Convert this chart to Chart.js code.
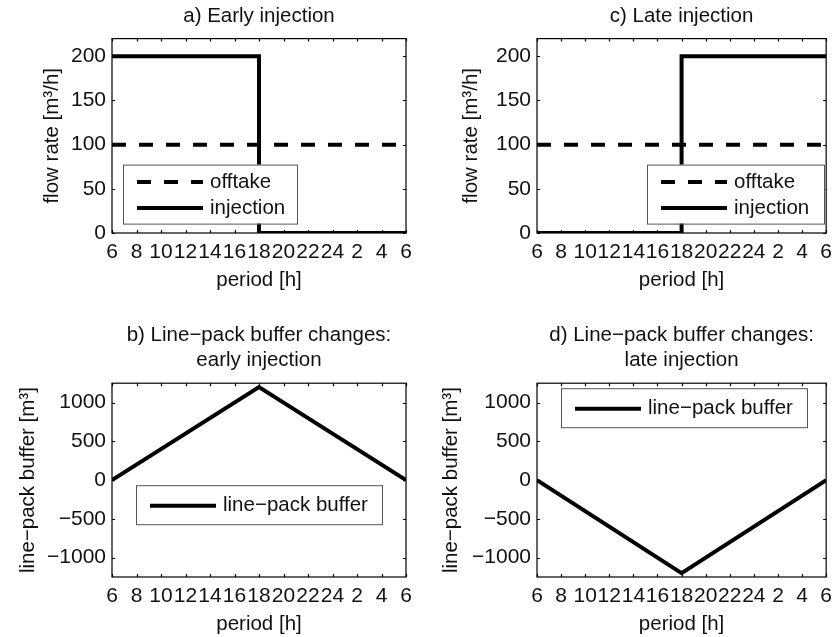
<!DOCTYPE html>
<html>
<head>
<meta charset="utf-8">
<title>Line-pack buffer</title>
<script src="https://cdn.jsdelivr.net/npm/chart.js@4.4.1/dist/chart.umd.min.js"></script>
<style>
  body { margin: 0; background: #fff; }
  #figure { position: relative; width: 839px; height: 637px; }
  #figure canvas { position: absolute; }
</style>
</head>
<body>
<div id="figure">
  <canvas id="chart_a" width="420" height="300" style="left:0;top:0"></canvas>
  <canvas id="chart_c" width="420" height="300" style="left:419px;top:0"></canvas>
  <canvas id="chart_b" width="420" height="327" style="left:0;top:310px"></canvas>
  <canvas id="chart_d" width="420" height="327" style="left:419px;top:310px"></canvas>
</div>
<script>
// gas day runs 6:00 -> 6:00, hours past midnight are written as 24 + h
const periodLabels = ['6', '8', '10', '12', '14', '16', '18', '20', '22', '24', '2', '4', '6'];
const flowTicks = [0, 50, 100, 150, 200];
const bufferTicks = [-1000, -500, 0, 500, 1000];

// flow rates [m3/h]
const offtakeHours = [6, 30];
const offtake = [100, 100];
const injectionHours = [6, 18, 18, 30];
const injectionEarly = [200, 200, 0, 0];
const injectionLate = [0, 0, 200, 200];

// line-pack buffer [m3]
const bufferHours = [6, 18, 30];
const bufferEarly = [0, 1200, 0];
const bufferLate = [0, -1200, 0];

const FONT = '"Liberation Sans", Arial, Helvetica, sans-serif';
const INK = '#111';

Chart.defaults.font.family = FONT;
Chart.defaults.font.size = 20.5;
Chart.defaults.color = INK;

function points(xs, ys) {
    return xs.map((x, i) => ({x: x, y: ys[i]}));
}

// negative numbers get a real minus sign
function tickText(v) {
    return v < 0 ? '\u2212' + Math.abs(v) : String(v);
}

// keep the title centred over the plot area rather than the whole canvas
const titleOverAreaPlugin = {
    id: 'titleOverArea',
    afterLayout(chart) {
        const t = chart.titleBlock;
        if (t) {
            t.left = chart.chartArea.left;
            t.right = chart.chartArea.right;
            t.width = t.right - t.left;
        }
    }
};

// box around the plot area with small inward ticks on all four sides
const framePlugin = {
    id: 'frame',
    afterDraw(chart) {
        const {ctx, chartArea: a, scales} = chart;
        const len = 3;
        ctx.save();
        ctx.strokeStyle = '#000';
        ctx.lineWidth = 1.2;
        ctx.beginPath();
        scales.x.ticks.forEach(t => {
            const px = Math.round(scales.x.getPixelForValue(t.value)) + 0.5;
            ctx.moveTo(px, a.bottom); ctx.lineTo(px, a.bottom - len);
            ctx.moveTo(px, a.top); ctx.lineTo(px, a.top + len);
        });
        scales.y.ticks.forEach(t => {
            const py = Math.round(scales.y.getPixelForValue(t.value)) + 0.5;
            ctx.moveTo(a.left, py); ctx.lineTo(a.left + len, py);
            ctx.moveTo(a.right, py); ctx.lineTo(a.right - len, py);
        });
        ctx.stroke();
        ctx.strokeRect(a.left, a.top, a.right - a.left, a.bottom - a.top);
        ctx.restore();
    }
};

// legend drawn as a framed box inside the plot area
const boxLegendPlugin = {
    id: 'boxLegend',
    afterDraw(chart, args, opts) {
        const {ctx, chartArea: a} = chart;
        const x = a.left + opts.x, y = a.top + opts.y;
        const sets = chart.data.datasets.filter(d => d.label);
        ctx.save();
        ctx.fillStyle = '#fff';
        ctx.fillRect(x, y, opts.w, opts.h);
        ctx.strokeStyle = '#555';
        ctx.lineWidth = 1;
        ctx.strokeRect(x + 0.5, y + 0.5, opts.w, opts.h);
        ctx.font = '20.5px ' + FONT;
        ctx.textBaseline = 'middle';
        sets.forEach((d, i) => {
            const cy = y + opts.h / 2 + (i - (sets.length - 1) / 2) * 26 + 1;
            ctx.strokeStyle = d.borderColor;
            ctx.lineWidth = d.borderWidth;
            ctx.setLineDash(d.borderDash || []);
            ctx.beginPath();
            ctx.moveTo(x + 14, cy);
            ctx.lineTo(x + 80, cy);
            ctx.stroke();
            ctx.setLineDash([]);
            ctx.fillStyle = INK;
            ctx.fillText(d.label, x + 87, cy);
        });
        ctx.restore();
    }
};

function lineSet(label, xs, ys, dashed) {
    return {
        label: label,
        data: points(xs, ys),
        borderColor: '#000',
        borderWidth: 4,
        borderDash: dashed ? [14, 13] : [],
        borderCapStyle: 'butt',
        borderJoinStyle: 'miter',
        pointRadius: 0,
        tension: 0
    };
}

function buildChart(id, spec) {
    return new Chart(document.getElementById(id), {
        type: 'line',
        data: {datasets: spec.datasets},
        options: {
            responsive: false,
            animation: false,
            events: [],
            layout: {padding: spec.padding},
            plugins: {
                legend: {display: false},
                tooltip: {enabled: false},
                title: {
                    display: true,
                    text: spec.title,
                    color: INK,
                    font: {size: 20.5, weight: 'normal'},
                    padding: {top: 0, bottom: spec.titleGap}
                },
                boxLegend: spec.legend
            },
            scales: {
                x: {
                    type: 'linear',
                    min: 6,
                    max: 30,
                    afterFit: s => { s.height = 60; },
                    grid: {display: false, drawTicks: false},
                    border: {display: false},
                    ticks: {
                        stepSize: 2,
                        autoSkip: false,
                        maxRotation: 0,
                        minRotation: 0,
                        padding: 7,
                        color: INK,
                        font: {size: 21},
                        callback: (v, i) => periodLabels[i]
                    },
                    title: {display: true, text: 'period [h]', color: INK, padding: 0}
                },
                y: {
                    min: spec.yMin,
                    max: spec.yMax,
                    afterFit: s => { s.width = spec.yWidth; },
                    afterBuildTicks: s => { s.ticks = spec.yTicks.map(v => ({value: v})); },
                    grid: {display: false, drawTicks: false},
                    border: {display: false},
                    ticks: {padding: 6, color: INK, font: {size: 21}, callback: tickText},
                    title: {display: true, text: spec.yTitle, color: INK, padding: 0}
                }
            }
        },
        plugins: [titleOverAreaPlugin, framePlugin, boxLegendPlugin]
    });
}

buildChart('chart_a', {
    title: 'a) Early injection',
    titleGap: 10,
    padding: {top: 4, left: 40, right: 14, bottom: 7},
    yWidth: 72,
    yMin: 0, yMax: 220, yTicks: flowTicks,
    yTitle: 'flow rate [m³/h]',
    legend: {x: 11, y: 126, w: 174, h: 59},
    datasets: [
        lineSet('offtake', offtakeHours, offtake, true),
        lineSet('injection', injectionHours, injectionEarly, false)
    ]
});

buildChart('chart_c', {
    title: 'c) Late injection',
    titleGap: 10,
    padding: {top: 4, left: 40, right: 11, bottom: 7},
    yWidth: 78,
    yMin: 0, yMax: 220, yTicks: flowTicks,
    yTitle: 'flow rate [m³/h]',
    legend: {x: 110, y: 126, w: 177, h: 59},
    datasets: [
        lineSet('offtake', offtakeHours, offtake, true),
        lineSet('injection', injectionHours, injectionLate, false)
    ]
});

buildChart('chart_b', {
    title: ['b) Line\u2212pack buffer changes:', 'early injection'],
    titleGap: 11,
    padding: {top: 13, left: 16, right: 14, bottom: 0},
    yWidth: 96,
    yMin: -1250, yMax: 1250, yTicks: bufferTicks,
    yTitle: 'line\u2212pack buffer [m³]',
    legend: {x: 24, y: 102, w: 246, h: 39},
    datasets: [lineSet('line\u2212pack buffer', bufferHours, bufferEarly, false)]
});

buildChart('chart_d', {
    title: ['d) Line\u2212pack buffer changes:', 'late injection'],
    titleGap: 11,
    padding: {top: 13, left: 20, right: 11, bottom: 0},
    yWidth: 98,
    yMin: -1250, yMax: 1250, yTicks: bufferTicks,
    yTitle: 'line\u2212pack buffer [m³]',
    legend: {x: 24, y: 5, w: 246, h: 39},
    datasets: [lineSet('line\u2212pack buffer', bufferHours, bufferLate, false)]
});
</script>
</body>
</html>
